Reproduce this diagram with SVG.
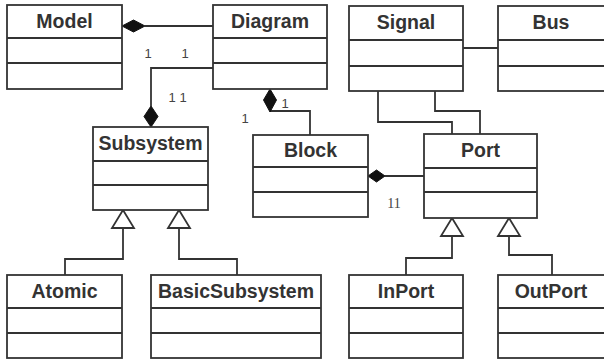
<svg xmlns="http://www.w3.org/2000/svg" width="604" height="360" viewBox="0 0 604 360">
<style>
.box{fill:#fff;stroke:#333;stroke-width:1.8}
.div{stroke:#333;stroke-width:1.8}
.t{font-family:"Liberation Sans",Arial,sans-serif;font-weight:bold;font-size:19.5px;fill:#333;text-anchor:middle}
.c{fill:none;stroke:#333;stroke-width:1.8}
.dia{fill:#111;stroke:#111;stroke-width:1}
.gen{fill:#fff;stroke:#333;stroke-width:1.8}
.m{font-family:"Liberation Sans",Arial,sans-serif;font-size:13px;fill:#444;text-anchor:middle}
.ms{font-family:"Liberation Serif","Times New Roman",serif;font-size:14px;fill:#444;text-anchor:middle}
</style>
<rect width="604" height="360" fill="#fff"/>
<g id="connectors">
<path class="c" d="M145 26 H213"/>
<path class="c" d="M213 68 H151 V106"/>
<path class="c" d="M270 111 H310 V135"/>
<path class="c" d="M385 176 H424"/>
<path class="c" d="M463 48 H498"/>
<path class="c" d="M378 91 V122 H452 V134"/>
<path class="c" d="M435 91 V111 H480 V134"/>
<path class="c" d="M123 228 V259 H65 V275"/>
<path class="c" d="M179 228 V259 H237 V275"/>
<path class="c" d="M452 236 V258 H406 V275"/>
<path class="c" d="M509 236 V255 H552 V275"/>
<polygon class="dia" points="122,26 133.5,20 145,26 133.5,32"/>
<polygon class="dia" points="151,106 158,116.5 151,127 144,116.5"/>
<polygon class="dia" points="270,89 276.5,100 270,112 263.5,100"/>
<polygon class="dia" points="368,176 376.5,170 385,176 376.5,182"/>
<polygon class="gen" points="123,210 134,228 112,228"/>
<polygon class="gen" points="179,210 190,228 168,228"/>
<polygon class="gen" points="452,218 463,236 441,236"/>
<polygon class="gen" points="509,218 520,236 498,236"/>
<text class="m" x="148" y="58">1</text>
<text class="m" x="185" y="58">1</text>
<text class="m" x="172" y="102">1</text>
<text class="m" x="183" y="102">1</text>
<text class="m" x="285" y="108">1</text>
<text class="m" x="245" y="123">1</text>
<text class="ms" x="394" y="208">11</text>
</g>
<g id="Model"><rect class="box" x="7" y="5" width="115" height="84"/><path class="div" d="M7 38 H122 M7 63 H122"/><text class="t" x="64.5" y="28">Model</text></g>
<g id="Diagram"><rect class="box" x="213" y="5" width="114" height="84"/><path class="div" d="M213 38 H327 M213 63 H327"/><text class="t" x="270" y="28">Diagram</text></g>
<g id="Signal"><rect class="box" x="349" y="6" width="114" height="85"/><path class="div" d="M349 40 H463 M349 66 H463"/><text class="t" x="406" y="29">Signal</text></g>
<g id="Bus"><rect class="box" x="498" y="6" width="110" height="85"/><path class="div" d="M498 40 H608 M498 66 H608"/><text class="t" x="551" y="29">Bus</text></g>
<g id="Subsystem"><rect class="box" x="93" y="127" width="115" height="83"/><path class="div" d="M93 161 H208 M93 185 H208"/><text class="t" x="150.5" y="150">Subsystem</text></g>
<g id="Block"><rect class="box" x="253" y="135" width="115" height="82"/><path class="div" d="M253 167 H368 M253 192 H368"/><text class="t" x="310.5" y="157">Block</text></g>
<g id="Port"><rect class="box" x="424" y="134" width="113" height="84"/><path class="div" d="M424 168 H537 M424 192 H537"/><text class="t" x="480.5" y="157">Port</text></g>
<g id="Atomic"><rect class="box" x="7" y="275" width="115" height="83"/><path class="div" d="M7 308 H122 M7 333 H122"/><text class="t" x="64.5" y="298">Atomic</text></g>
<g id="BasicSubsystem"><rect class="box" x="151" y="275" width="170" height="83"/><path class="div" d="M151 308 H321 M151 333 H321"/><text class="t" x="236" y="298">BasicSubsystem</text></g>
<g id="InPort"><rect class="box" x="349" y="275" width="114" height="83"/><path class="div" d="M349 308 H463 M349 333 H463"/><text class="t" x="406" y="298">InPort</text></g>
<g id="OutPort"><rect class="box" x="498" y="275" width="110" height="83"/><path class="div" d="M498 308 H608 M498 333 H608"/><text class="t" x="551" y="298">OutPort</text></g>
</svg>
